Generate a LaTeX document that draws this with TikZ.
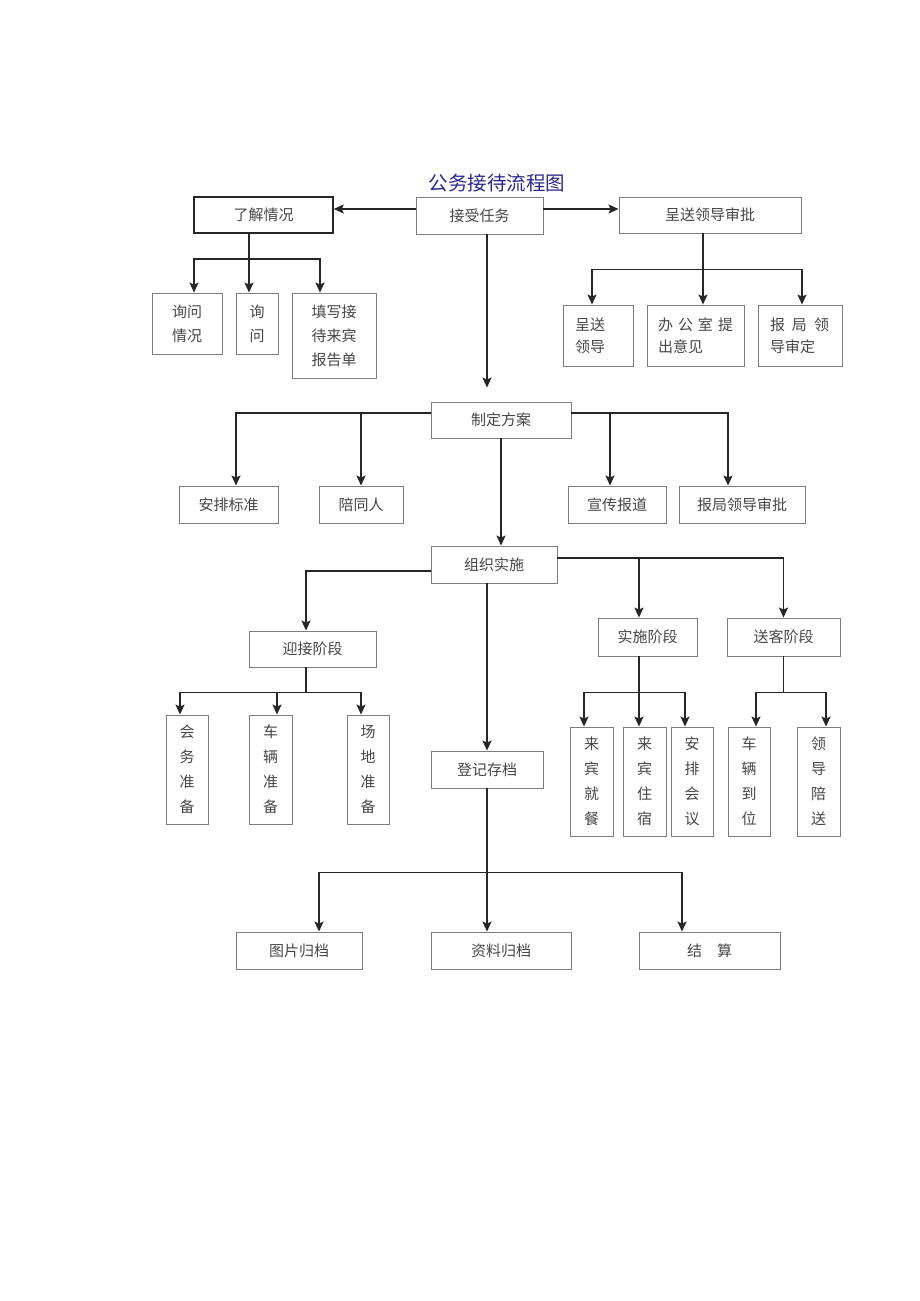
\documentclass[tikz,border=0pt]{standalone}
\usepackage{fontspec}
\setmainfont{Noto Sans CJK SC}
\usetikzlibrary{arrows.meta}
\definecolor{titleblue}{RGB}{40,40,140}
\definecolor{boxgray}{RGB}{125,125,125}
\definecolor{textgray}{RGB}{70,70,70}
\begin{document}
\begin{tikzpicture}[x=1pt,y=-1pt,
  box/.style={draw=boxgray,line width=0.9pt,inner sep=0pt,text=textgray,align=center,font=\fontsize{15}{24}\selectfont},
  keybox/.style={box,draw=black!85,line width=1.5pt},
  vbox/.style={box,font=\fontsize{15}{25}\selectfont},
  lbox/.style={box,align=left,font=\fontsize{15}{22}\selectfont},
  arr/.style={-{Stealth[length=10pt,width=9pt,inset=2pt]},line width=1.5pt,draw=black!85}]
\useasboundingbox (0,0) rectangle (920,1301);

\node[text=titleblue,font=\fontsize{19.5}{20}\selectfont] (title) at (497,183) {公务接待流程图};

\node[box,minimum width=127pt,minimum height=37pt] (jieshou) at (479.5,215.5) {接受任务};
\node[keybox,minimum width=139pt,minimum height=36pt] (liaojie) at (263.5,215) {了解情况};
\node[box,minimum width=182pt,minimum height=36pt] (chengsong) at (710,215) {呈送领导审批};

\node[box,minimum width=70pt,minimum height=61pt] (xunwen) at (187,323.5) {询问\\情况};
\node[box,minimum width=42pt,minimum height=61pt] (xunwenb) at (257,323.5) {询\\问};
\node[box,minimum width=84pt,minimum height=85pt] (tianxie) at (334,335.5) {填写接\\待来宾\\报告单};

\node[lbox,text width=46pt,minimum width=70pt,minimum height=61pt] (songling) at (598,335.5) {呈送\\领导};
\node[lbox,text width=75pt,minimum width=97pt,minimum height=61pt] (bangong) at (695.5,335.5) {办\hspace{5pt}公\hspace{5pt}室\hspace{5pt}提\\出意见};
\node[lbox,text width=60pt,minimum width=84pt,minimum height=61pt] (shending) at (800,335.5) {报\hspace{7pt}局\hspace{7pt}领\\导审定};

\node[box,minimum width=140pt,minimum height=36pt] (zhiding) at (501,420) {制定方案};
\node[box,minimum width=99pt,minimum height=37pt] (anpai) at (228.5,504.5) {安排标准};
\node[box,minimum width=84pt,minimum height=37pt] (peitong) at (361,504.5) {陪同人};
\node[box,minimum width=98pt,minimum height=37pt] (xuanchuan) at (617,504.5) {宣传报道};
\node[box,minimum width=126pt,minimum height=37pt] (baoju) at (742,504.5) {报局领导审批};

\node[box,minimum width=126pt,minimum height=37pt] (zuzhi) at (494,564.5) {组织实施};
\node[box,minimum width=127pt,minimum height=36pt] (yingjie) at (312.5,649) {迎接阶段};
\node[box,minimum width=99pt,minimum height=38pt] (shishi) at (647.5,637) {实施阶段};
\node[box,minimum width=113pt,minimum height=38pt] (songke) at (783.5,637) {送客阶段};
\node[box,minimum width=112pt,minimum height=37pt] (dengji) at (487,769.5) {登记存档};

\node[vbox,minimum width=42pt,minimum height=109pt] (huiwu) at (187,769.5) {会\\务\\准\\备};
\node[vbox,minimum width=43pt,minimum height=109pt] (cheliang) at (270.5,769.5) {车\\辆\\准\\备};
\node[vbox,minimum width=42pt,minimum height=109pt] (changdi) at (368,769.5) {场\\地\\准\\备};

\node[vbox,minimum width=43pt,minimum height=109pt] (jiucan) at (591.5,781.5) {来\\宾\\就\\餐};
\node[vbox,minimum width=43pt,minimum height=109pt] (zhusu) at (644.5,781.5) {来\\宾\\住\\宿};
\node[vbox,minimum width=42pt,minimum height=109pt] (huiyi) at (692,781.5) {安\\排\\会\\议};
\node[vbox,minimum width=42pt,minimum height=109pt] (daowei) at (749,781.5) {车\\辆\\到\\位};
\node[vbox,minimum width=43pt,minimum height=109pt] (peisong) at (818.5,781.5) {领\\导\\陪\\送};

\node[box,minimum width=126pt,minimum height=37pt] (tupian) at (299,950.5) {图片归档};
\node[box,minimum width=140pt,minimum height=37pt] (ziliao) at (501,950.5) {资料归档};
\node[box,minimum width=141pt,minimum height=37pt] (jiesuan) at (709.5,950.5) {结\hspace{15pt}算};

% top row
\draw[arr] ([yshift=6.5pt]jieshou.west) -- ([yshift=6pt]liaojie.east);
\draw[arr] ([yshift=6.5pt]jieshou.east) -- ([yshift=6pt]chengsong.west);
\draw[arr,shorten >=14pt] ([xshift=7.5pt]jieshou.south) -- ([xshift=7.5pt]jieshou.south |- zhiding.north);

\draw[arr] ([xshift=-14.5pt]liaojie.south) -- ++(0,25) -| ([xshift=7pt]xunwen.north);
\draw[arr] ([xshift=-14.5pt]liaojie.south) -- ++(0,25) -| ([xshift=-8pt]xunwenb.north);
\draw[arr] ([xshift=-14.5pt]liaojie.south) -- ++(0,25) -| ([xshift=-14pt]tianxie.north);

\draw[arr] ([xshift=-7pt]chengsong.south) -- ++(0,36) -| ([xshift=-6pt]songling.north);
\draw[arr] ([xshift=-7pt]chengsong.south) -- ++(0,36) -| ([xshift=7.5pt]bangong.north);
\draw[arr] ([xshift=-7pt]chengsong.south) -- ++(0,36) -| ([xshift=2pt]shending.north);

% plan
\draw[arr] ([yshift=7pt]zhiding.west) -| ([xshift=7.5pt]anpai.north);
\draw[arr] ([yshift=7pt]zhiding.west) -| (peitong.north);
\draw[arr] ([yshift=7pt]zhiding.east) -| ([xshift=-7pt]xuanchuan.north);
\draw[arr] ([yshift=7pt]zhiding.east) -| ([xshift=-14pt]baoju.north);
\draw[arr] (zhiding.south) -- (zhiding.south |- zuzhi.north);

% stages
\draw[arr] ([yshift=-6.5pt]zuzhi.west) -| ([xshift=-6.5pt]yingjie.north);
\draw[arr] ([yshift=6.5pt]zuzhi.east) -| ([xshift=-8.5pt]shishi.north);
\draw[arr] ([yshift=6.5pt]zuzhi.east) -| (songke.north);
\draw[arr] ([xshift=-7pt]zuzhi.south) -- (dengji.north);

\draw[arr] ([xshift=-6.5pt]yingjie.south) -- ++(0,25) -| ([xshift=-7pt]huiwu.north);
\draw[arr] ([xshift=-6.5pt]yingjie.south) -- ++(0,25) -| ([xshift=6.5pt]cheliang.north);
\draw[arr] ([xshift=-6.5pt]yingjie.south) -- ++(0,25) -| ([xshift=-7pt]changdi.north);

\draw[arr] ([xshift=-8.5pt]shishi.south) -- ++(0,36) -| ([xshift=-7.5pt]jiucan.north);
\draw[arr] ([xshift=-8.5pt]shishi.south) -- ++(0,36) -| ([xshift=-5.5pt]zhusu.north);
\draw[arr] ([xshift=-8.5pt]shishi.south) -- ++(0,36) -| ([xshift=-7pt]huiyi.north);

\draw[arr] (songke.south) -- ++(0,36) -| ([xshift=7pt]daowei.north);
\draw[arr] (songke.south) -- ++(0,36) -| ([xshift=7.5pt]peisong.north);

% archive
\draw[arr] (dengji.south) -- ++(0,84) -| ([xshift=20pt]tupian.north);
\draw[arr] (dengji.south) -- ++(0,84) -| ([xshift=-14pt]ziliao.north);
\draw[arr] (dengji.south) -- ++(0,84) -| ([xshift=-27.5pt]jiesuan.north);
\end{tikzpicture}
\end{document}
